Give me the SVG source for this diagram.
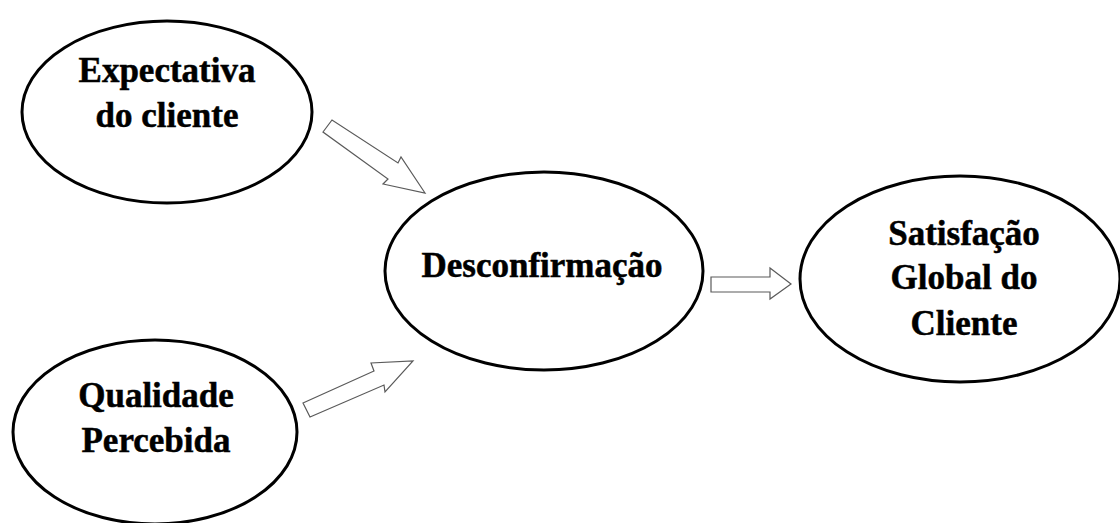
<svg xmlns="http://www.w3.org/2000/svg" width="1120" height="523" viewBox="0 0 1120 523">
  <style>
    .node ellipse { fill: #ffffff; stroke: #000000; stroke-width: 3; }
    .node text { font-family: "Liberation Serif", "Times New Roman", serif; font-weight: bold; font-size: 35px; fill: #000000; stroke: #000000; stroke-width: 0.5; text-anchor: middle; }
    .connectors polygon { fill: #ffffff; stroke: #5a5a5a; stroke-width: 1.2; stroke-linejoin: miter; }
  </style>
  <rect x="0" y="0" width="1120" height="523" fill="#ffffff"/>

  <!-- block arrows between the constructs -->
  <g class="connectors" id="connectors">
    <polygon id="arrow-expectativa" points="323,132 332,120 398,163 401,157 425,193 383,184 388,179"/>
    <polygon id="arrow-qualidade" points="303,403 310,417 384,385 385,392 413,361 371,363 374,371"/>
    <polygon id="arrow-desconfirmacao" points="711,277 770,277 770,268 791,284 770,299 770,292 711,292"/>
  </g>

  <g class="node" id="node-expectativa">
    <ellipse cx="167" cy="112" rx="145" ry="91"/>
    <text x="167" y="82">Expectativa</text>
    <text x="167" y="127">do cliente</text>
  </g>

  <g class="node" id="node-qualidade">
    <ellipse cx="155" cy="432" rx="142" ry="92"/>
    <text x="156" y="407">Qualidade</text>
    <text x="156" y="452">Percebida</text>
  </g>

  <g class="node" id="node-desconfirmacao">
    <ellipse cx="544" cy="271" rx="159" ry="99"/>
    <text x="542" y="277">Desconfirmação</text>
  </g>

  <g class="node" id="node-satisfacao">
    <ellipse cx="960" cy="279" rx="160" ry="103"/>
    <text x="964" y="245">Satisfação</text>
    <text x="964" y="289">Global do</text>
    <text x="964" y="335">Cliente</text>
  </g>
</svg>
